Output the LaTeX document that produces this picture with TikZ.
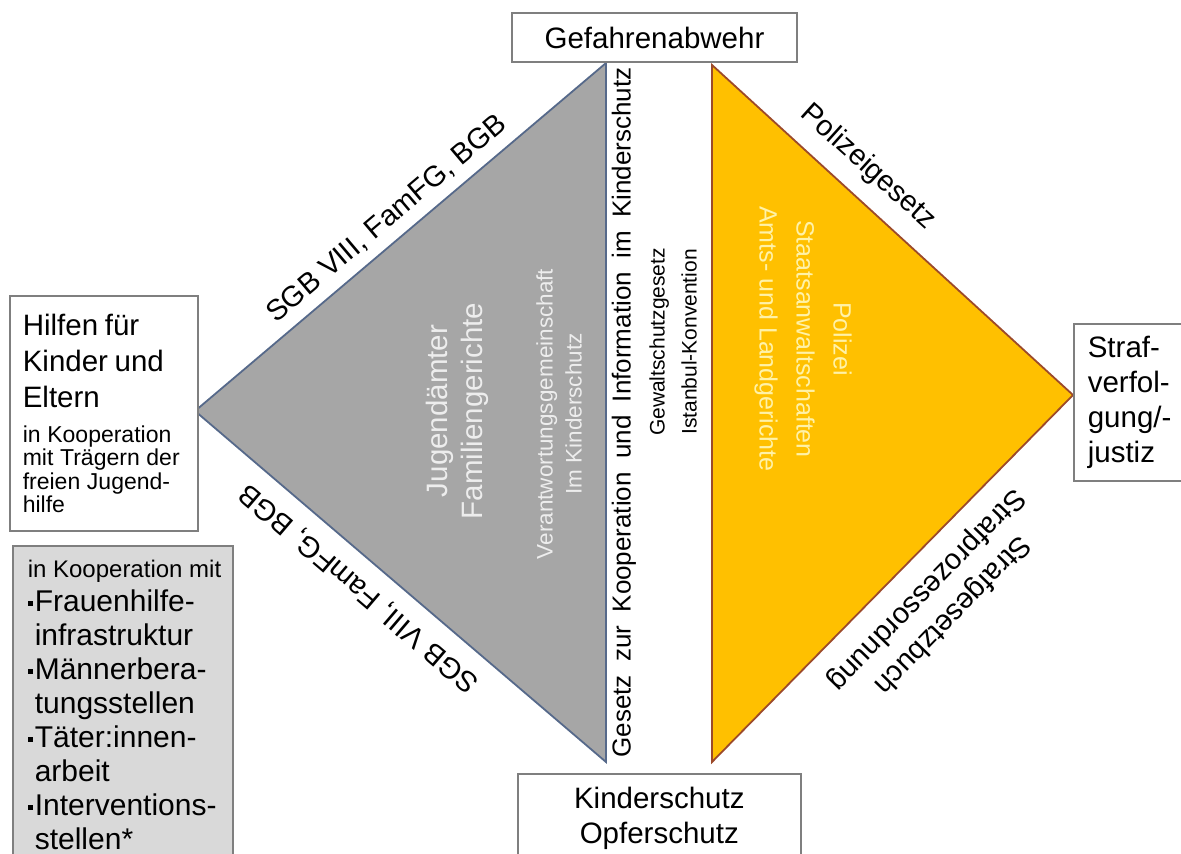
\documentclass[tikz,border=0pt]{standalone}
\usepackage{fontspec}
\setmainfont{Liberation Sans}
\usepackage{tikz}
\definecolor{grayfill}{HTML}{A6A6A6}
\definecolor{grayline}{HTML}{56698A}
\definecolor{graytext}{HTML}{EDEDED}
\definecolor{gold}{HTML}{FFC000}
\definecolor{goldline}{HTML}{9C4A2A}
\definecolor{goldtext}{HTML}{FFF2A8}
\definecolor{boxline}{HTML}{7F7F7F}
\definecolor{boxfill}{HTML}{D9D9D9}
\tikzstyle{box}=[draw=boxline, line width=0.8pt, fill=white, inner sep=0pt]
\tikzstyle{big}=[font=\fontsize{14.75}{17.5}\selectfont]
\tikzstyle{lbl}=[font=\fontsize{14.5}{18}\selectfont]
\tikzstyle{grayside}=[draw=grayline, fill=grayfill, line width=0.9pt]
\tikzstyle{goldside}=[draw=goldline, fill=gold, line width=0.9pt]
\newcommand{\itm}{\makebox[3.5pt][l]{\rule[0.18em]{0.17em}{0.17em}}}

\begin{document}
\begin{tikzpicture}[x=0.5pt, y=-0.5pt]
		\useasboundingbox (0,0) rectangle (1181,854);
		\begin{scope}
			\coordinate (gl) at (195,411);
			\coordinate (gt) at (606,63);
			\coordinate (gb) at (606,762);
			\coordinate (ot) at (712,65);
			\coordinate (ob) at (712,762);
			\coordinate (or) at (1073,395);
			\draw[grayside] (gl) -- (gt) -- (gb) -- cycle;
			\draw[goldside] (ot) -- (or) -- (ob) -- cycle;
		\end{scope}
		\begin{scope}
			\node[box, big, minimum width=142.5pt, minimum height=24.5pt] (gef) at (654.5,37.5) {Gefahrenabwehr};
			\node[box, anchor=north west, text width=81pt, inner xsep=6.5pt, minimum height=117.5pt, align=left] (hilfe) at (9,295) {
				{\fontsize{14.75}{18}\selectfont Hilfen für\\Kinder und\\Eltern\par}
				\vspace{5.75pt}
				{\fontsize{11.5}{11.75}\selectfont in Kooperation\\mit Trägern der\\freien Jugend-\\hilfe\par}
			};
			\node[box, fill=boxfill, anchor=north west, text width=95pt, inner xsep=7.5pt, inner ysep=7pt, align=left] (koop) at (12,545) {
				{\fontsize{12}{14}\selectfont\mbox{in Kooperation mit}\par}
				{\fontsize{15}{17}\selectfont
				\itm Frauenhilfe-\\
				\hspace*{3.5pt}infrastruktur\\
				\itm Männerbera-\\
				\hspace*{3.5pt}tungsstellen\\
				\itm Täter:innen-\\
				\hspace*{3.5pt}arbeit\\
				\itm Interventions-\\
				\hspace*{3.5pt}stellen*\par}
			};
			\node[box, big, anchor=north west, text width=90pt, inner xsep=7pt, minimum height=78.5pt, align=left] (straf) at (1073,323) {Straf-\\verfol-\\gung/-\\justiz};
			\node[box, big, anchor=north west, text width=131.5pt, inner xsep=5pt, inner ysep=6.5pt, align=center] (kind) at (517,773) {Kinderschutz\\Opferschutz};
		\end{scope}
		\begin{scope}
			\node[big, text=graytext, rotate=90, align=center] (jug) at (457.5,411) {Jugendämter\\Familiengerichte};
			\node[text=graytext, rotate=90, align=center, font=\fontsize{11.25}{14.5}\selectfont] (ver) at (559,414) {Verantwortungsgemeinschaft\\Im Kinderschutz};
			\node[text=goldtext, rotate=-90, align=center, font=\fontsize{12.5}{18.5}\selectfont] (pol) at (803,339) {Polizei\\Staatsanwaltschaften\\Amts- und Landgerichte};
			\node[rotate=90, font=\fontsize{13}{15}\selectfont] (ges) at (624,412.5) {\makebox[345pt][s]{Gesetz zur Kooperation und Information im Kinderschutz}};
			\node[rotate=90, align=center, font=\fontsize{10.5}{16}\selectfont] (gew) at (673,342) {Gewaltschutzgesetz\\Istanbul-Konvention};
		\end{scope}
		\begin{scope}
			\node[lbl, rotate=40.25] (sgbo) at (387,219) {SGB VIII, FamFG, BGB};
			\node[lbl, rotate=139.5] (sgbu) at (359,588) {SGB VIII, FamFG, BGB};
			\node[lbl, rotate=-42] (pg) at (868,167) {Polizeigesetz};
			\node[lbl, rotate=-134.1, align=center] (stb) at (939,602) {Strafgesetzbuch\\Strafprozessordnung};
		\end{scope}
\end{tikzpicture}
\end{document}
